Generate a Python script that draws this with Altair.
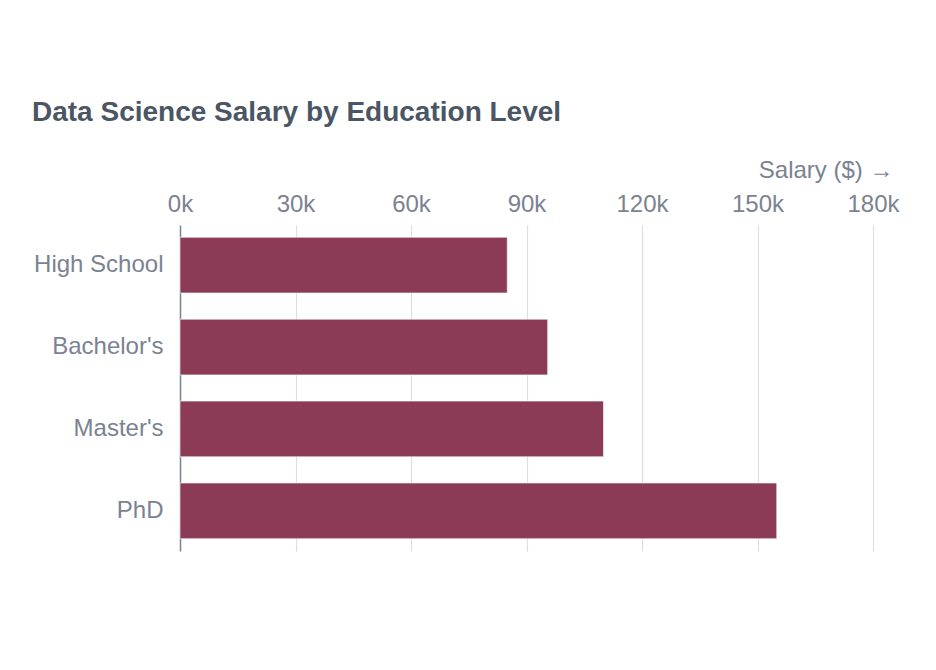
import altair as alt
import pandas as pd

levels = ["High School", "Bachelor's", "Master's", "PhD"]
salaries = [85000, 95500, 110000, 155000]

df = pd.DataFrame({"level": levels, "salary": salaries})

FONT = "Liberation Sans"
LABEL_GRAY = "#7b8291"

bars = alt.Chart(df).mark_bar(
    color="#8b3b55", stroke="#ffffff", strokeWidth=1, strokeOpacity=0.6
).encode(
    x=alt.X(
        "salary:Q",
        scale=alt.Scale(domain=[0, 180000], nice=False),
        axis=alt.Axis(
            orient="top", title="Salary ($) →", values=[0, 30000, 60000, 90000, 120000, 150000, 180000],
            labelExpr="datum.value / 1000 + 'k'", domain=False, ticks=False, labelFlush=False,
            labelFontSize=24, labelColor=LABEL_GRAY, labelPadding=9, labelFont=FONT,
            titleFontSize=24, titleColor=LABEL_GRAY, titleFontWeight="normal", titleFont=FONT,
            titleAnchor="end", titleAlign="right", titleX=713, titleY=-43,
            gridColor="#dedde4", gridWidth=1.2,
        ),
    ),
    y=alt.Y(
        "level:N", sort=levels,
        scale=alt.Scale(paddingInner=0.32, paddingOuter=0.15),
        axis=alt.Axis(
            title=None, ticks=False, domainColor="#7a8594", domainWidth=1.5,
            labelFontSize=24, labelColor=LABEL_GRAY, labelPadding=17, labelFont=FONT,
            grid=False,
        ),
    ),
).properties(
    width=693, height=326,
    title=alt.TitleParams(
        "Data Science Salary by Education Level", anchor="start", frame="group",
        fontSize=28, fontWeight="bold", color="#4b5664", font=FONT, dx=-148, offset=31,
    ),
    autosize=alt.AutoSizeParams(type="none"),
    padding={"left": 172, "top": 217, "right": 55, "bottom": 100},
).configure_view(stroke=None)

bars.save("out.html", embed_options={"renderer": "svg", "actions": False})
